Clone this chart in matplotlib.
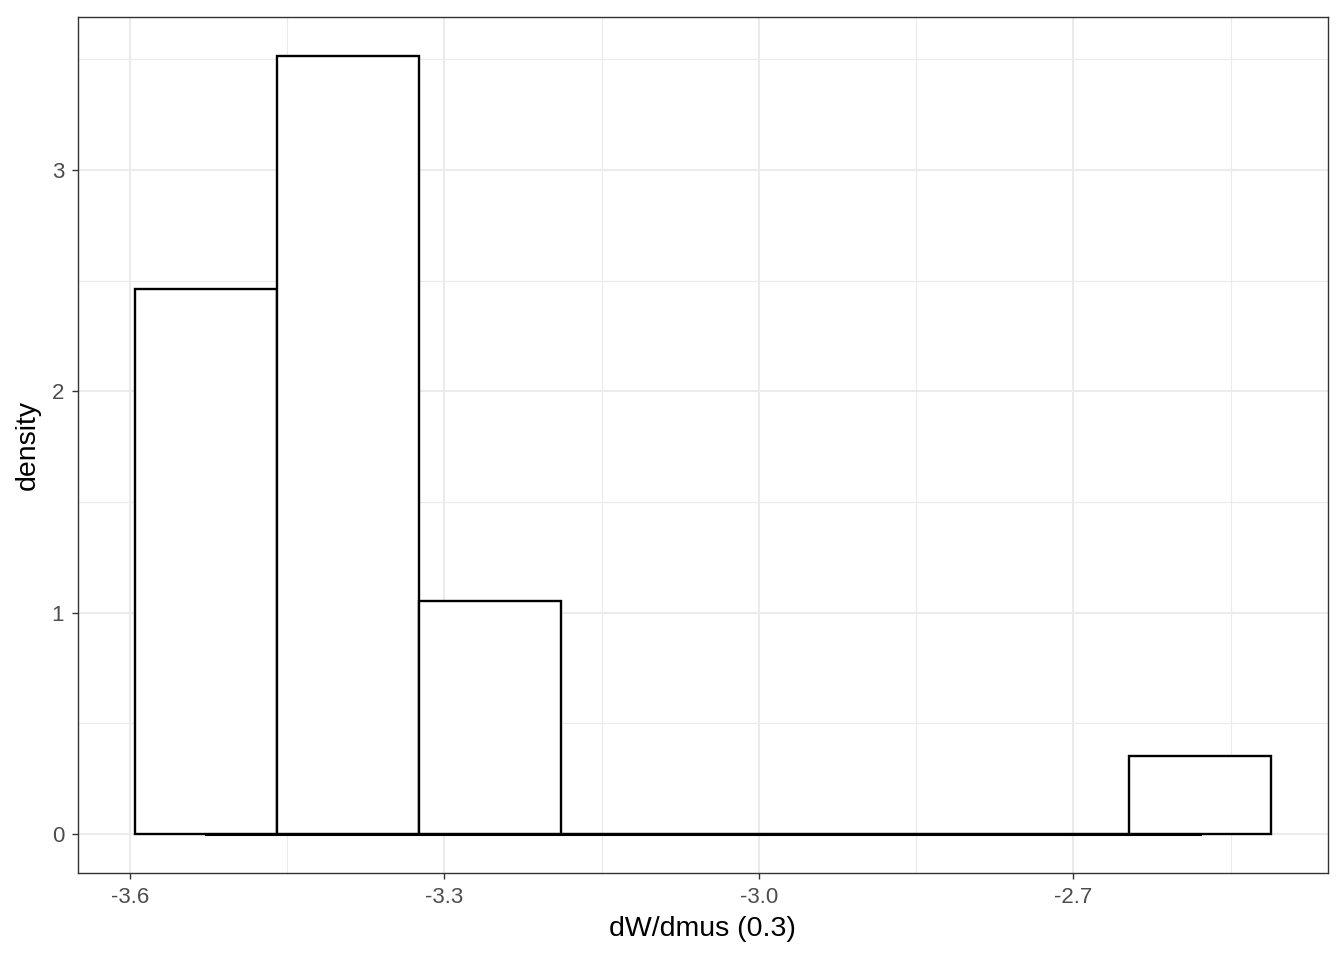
import numpy as np
import matplotlib.pyplot as plt
from matplotlib.ticker import MultipleLocator

# histogram data
bin_left = -3.5952
bin_width = 0.13548
counts = [7, 10, 3, 0, 0, 0, 0, 1]
n_obs = 21

x_ticks = [-3.6, -3.3, -3.0, -2.7]
x_tick_labels = ['-3.6', '-3.3', '-3.0', '-2.7']
y_ticks = [0, 1, 2, 3]

edges = bin_left + bin_width * np.arange(len(counts) + 1)
density = np.array(counts) / (n_obs * bin_width)
centers = (edges[:-1] + edges[1:]) / 2

plt.rcParams['font.family'] = ['Liberation Sans', 'DejaVu Sans']

fig = plt.figure(figsize=(13.44, 9.6), dpi=100)
ax = fig.add_axes([0.058, 0.0906, 0.930, 0.8917])

ax.bar(edges[:-1], density, width=bin_width, align='edge',
       facecolor='white', edgecolor='black', linewidth=1.7, zorder=3)
ax.plot([centers[0], centers[-1]], [0, 0], color='black', linewidth=2.2, zorder=4)

span = edges[-1] - edges[0]
ax.set_xlim(edges[0] - 0.05 * span, edges[-1] + 0.05 * span)
ymax = density.max()
ax.set_ylim(-0.05 * ymax, ymax * 1.05)

ax.set_xticks(x_ticks)
ax.set_xticklabels(x_tick_labels)
ax.set_yticks(y_ticks)
ax.xaxis.set_minor_locator(MultipleLocator(0.15))
ax.yaxis.set_minor_locator(MultipleLocator(0.5))

ax.grid(True, which='major', color='#ebebeb', linewidth=1.5, zorder=0)
ax.grid(True, which='minor', color='#ebebeb', linewidth=0.8, zorder=0)
ax.set_axisbelow(True)

for s in ax.spines.values():
    s.set_color('#333333')
    s.set_linewidth(1.0)

ax.tick_params(which='major', length=4, width=1.0, color='#333333',
               labelcolor='#4d4d4d', labelsize=16, pad=6)
ax.tick_params(which='minor', length=0)

ax.set_xlabel('dW/dmus (0.3)', fontsize=20.5, labelpad=6)
ax.set_ylabel('density', fontsize=20.5, labelpad=8)

fig.savefig('out.png', dpi=100)
